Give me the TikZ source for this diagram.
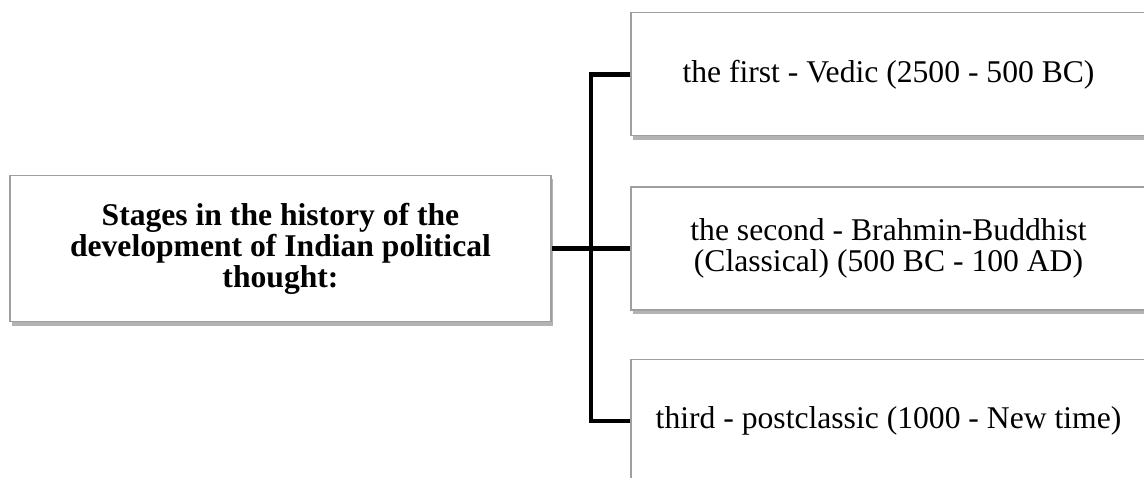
\documentclass[tikz,border=0pt]{standalone}
\usepackage{fontspec}
\setmainfont{Liberation Serif}
\usetikzlibrary{positioning,shadows}

\tikzset{
  stagebox/.style={draw=gray!75, line width=0.6pt, fill=white, align=center,
    inner sep=2pt, font=\fontsize{18}{17.6}\selectfont,
    drop shadow={shadow xshift=1.4pt, shadow yshift=-2.2pt, opacity=0.6}},
  periodbox/.style={stagebox, minimum width=10.3cm, minimum height=2.46cm},
  branch/.style={line width=2.45pt}
}

\begin{document}
\begin{tikzpicture}
    \useasboundingbox (0,0) rectangle (22.88,9.56);

    % Stages
    \node[stagebox, minimum width=10.82cm, minimum height=2.93cm,
          font=\fontsize{18}{17.6}\selectfont\bfseries] (stages) at (5.61,4.59)
        {Stages in the history of the\\development of Indian political\\thought:};

    % Periods
    \node[periodbox] (classic) at (17.77,4.59)
        {the second - Brahmin-Buddhist\\(Classical) (500 BC - 100 AD)};
    \node[periodbox, above=1cm of classic] (vedic)
        {the first - Vedic (2500 - 500 BC)};
    \node[periodbox, below=0.97cm of classic] (postclassic)
        {third - postclassic (1000 - New time)};

    % Connectors
    \coordinate (trunk) at (11.82,4.59);
    \draw[branch] (stages.east) -- (classic.west);
    \draw[branch] (vedic.west) -| (trunk) |- (postclassic.west);
\end{tikzpicture}
\end{document}
